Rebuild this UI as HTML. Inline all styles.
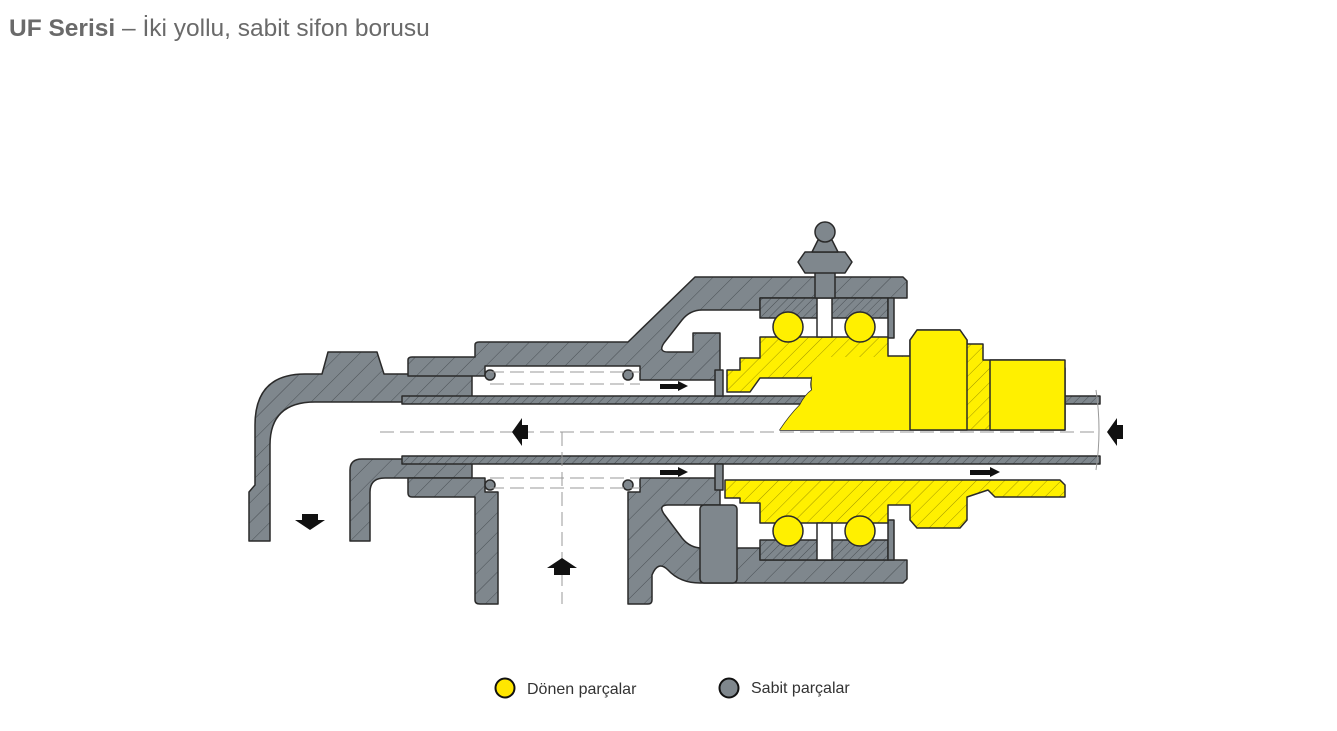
<!DOCTYPE html>
<html><head><meta charset="utf-8"><style>
html,body{margin:0;padding:0;background:#fff;width:1337px;height:731px;overflow:hidden}
.t{position:absolute;left:9px;top:15px;font-family:"Liberation Sans",sans-serif;font-size:24.5px;color:#6a6a6a;white-space:nowrap}
svg{position:absolute;left:0;top:0}
</style></head><body>
<div class="t"><b>UF Serisi</b> – İki yollu, sabit sifon borusu</div>
<svg width="1337" height="731" viewBox="0 0 1337 731">
<defs>
<pattern id="h" width="14" height="14" patternUnits="userSpaceOnUse" patternTransform="rotate(45)"><rect width="14" height="14" fill="#7f878d"/><line x1="0" y1="0" x2="0" y2="14" stroke="#4a5055" stroke-width="1"/></pattern>
<pattern id="hs" width="6" height="6" patternUnits="userSpaceOnUse" patternTransform="rotate(45)"><rect width="6" height="6" fill="#7f878d"/><line x1="0" y1="0" x2="0" y2="6" stroke="#4a5055" stroke-width="1"/></pattern>
<pattern id="y" width="10" height="10" patternUnits="userSpaceOnUse" patternTransform="rotate(45)"><rect width="10" height="10" fill="#fff000"/><line x1="0" y1="0" x2="0" y2="10" stroke="#8a8000" stroke-width="0.8"/></pattern>
</defs>
<g stroke="#2a2a2a" stroke-width="1.5" stroke-linejoin="round">
<path fill="url(#h)" d="M249,541 L249,492 L255,485 L255,425 Q255,374 305,374 L322,374 L328,352 L377,352 L384,374 L472,374 L472,402 L315,402 Q270,402 270,445 L270,541 Z"/>
<path fill="url(#h)" d="M350,541 L350,470 Q350,459 362,459 L472,459 L472,478 L385,478 Q370,478 370,492 L370,541 Z"/>
<path fill="url(#h)" d="M408,376 L408,360 Q408,357 412,357 L475,357 L475,345 Q475,342 479,342 L628,342 L695,277 L903,277 L907,281 L907,298 L760,298 L760,310 L702,310 Q690,310 682,320 L664,343 Q658,352 668,352 L693,352 L693,333 L720,333 L720,380 L640,380 L640,366 L485,366 L485,376 Z"/>
<path fill="url(#h)" d="M408,478 L485,478 L485,492 L498,492 L498,604 L480,604 Q475,604 475,600 L475,497 L412,497 Q408,497 408,493 Z"/>
<path fill="url(#h)" d="M628,492 L640,492 L640,478 L720,478 L720,505 L668,505 Q658,505 664,514 L682,538 Q690,548 702,548 L760,548 L760,560 L907,560 L907,579 L903,583 L700,583 Q680,583 668,570 Q658,560 652,575 L652,600 Q652,604 648,604 L628,604 Z"/>
<rect x="700" y="505" width="37" height="78" rx="4" fill="#7f878d"/>
<rect x="760" y="298" width="128" height="20" fill="url(#hs)"/>
<rect x="760" y="540" width="128" height="20" fill="url(#hs)"/>
<rect x="888" y="298" width="6" height="40" fill="#7f878d"/>
<rect x="888" y="520" width="6" height="40" fill="#7f878d"/>
<rect x="402" y="396" width="698" height="8" fill="url(#hs)"/>
<rect x="402" y="456" width="698" height="8" fill="url(#hs)"/>
<path fill="url(#y)" d="M727,392 L727,370 L740,370 L740,358 L760,358 L760,337 L888,337 L888,356 L910,356 L910,340 L917,330 L960,330 L967,340 L967,344 L983,344 L983,360 L1060,360 L1065,368 L1065,430 L780,430 Q790,415 800,405 Q805,395 812,390 Q810,385 812,378 L760,378 L750,392 Z"/>
<path fill="#fff000" d="M817,357 L910,357 L910,430 L780,430 Q790,415 800,405 Q805,395 812,390 Q810,375 817,365 Z" stroke="none"/>
<path fill="#fff000" d="M910,340 L917,330 L960,330 L967,340 L967,430 L910,430 Z"/>
<rect x="990" y="360" width="75" height="70" fill="#fff000"/>
<path fill="url(#y)" d="M725,480 L1060,480 L1065,485 L1065,497 L995,497 L988,490 L967,497 L967,520 L960,528 L917,528 L910,520 L910,505 L888,505 L888,523 L760,523 L760,503 L740,503 L740,498 L725,498 Z"/>
<circle cx="788" cy="327" r="15" fill="#fff000"/><circle cx="860" cy="327" r="15" fill="#fff000"/>
<circle cx="788" cy="531" r="15" fill="#fff000"/><circle cx="860" cy="531" r="15" fill="#fff000"/>
<rect x="817" y="298" width="15" height="39" fill="#fff"/>
<rect x="817" y="523" width="15" height="37" fill="#fff"/>
<rect x="815" y="270" width="20" height="28" fill="#7f878d"/>
<path fill="#7f878d" d="M798,262 L805,252 L845,252 L852,262 L845,273 L805,273 Z"/>
<path fill="#7f878d" d="M812,252 L818,240 L832,240 L838,252 Z"/>
<circle cx="825" cy="232" r="10" fill="#7f878d"/>
<circle cx="490" cy="375" r="5" fill="#7f878d"/><circle cx="628" cy="375" r="5" fill="#7f878d"/>
<circle cx="490" cy="485" r="5" fill="#7f878d"/><circle cx="628" cy="485" r="5" fill="#7f878d"/>
<rect x="715" y="370" width="8" height="26" fill="#7f878d"/><rect x="715" y="464" width="8" height="26" fill="#7f878d"/>
</g>
<g stroke="#999" stroke-width="1" fill="none" stroke-dasharray="14,6">
<line x1="380" y1="432" x2="1100" y2="432"/>
<line x1="490" y1="372" x2="640" y2="372"/><line x1="490" y1="384" x2="640" y2="384"/>
<line x1="490" y1="478" x2="640" y2="478"/><line x1="490" y1="488" x2="640" y2="488"/>
<line x1="562" y1="432" x2="562" y2="604"/>
</g>
<path d="M1096,390 Q1102,430 1096,470" stroke="#999" fill="none"/>
<g fill="#111">
<path d="M512,432 L522,418 L522,425 L528,425 L528,439 L522,439 L522,446 Z"/>
<path d="M1107,432 L1117,418 L1117,425 L1123,425 L1123,439 L1117,439 L1117,446 Z"/>
<path d="M310,530 L295,520 L302,520 L302,514 L318,514 L318,520 L325,520 Z"/>
<path d="M562,558 L547,568 L554,568 L554,575 L570,575 L570,568 L577,568 Z"/>
<path d="M688,386 L678,381 L678,384 L660,384 L660,389 L678,389 L678,391 Z"/>
<path d="M688,472 L678,467 L678,470 L660,470 L660,475 L678,475 L678,477 Z"/>
<path d="M1000,472 L990,467 L990,470 L970,470 L970,475 L990,475 L990,477 Z"/>
</g>
<circle cx="505" cy="688" r="9.5" fill="#ffe600" stroke="#111" stroke-width="2"/>
<text x="527" y="694" font-family="Liberation Sans,sans-serif" font-size="16" fill="#333">Dönen parçalar</text>
<circle cx="729" cy="688" r="9.5" fill="#7f878d" stroke="#111" stroke-width="2"/>
<text x="751" y="693" font-family="Liberation Sans,sans-serif" font-size="16" fill="#333">Sabit parçalar</text>
</svg>
</body></html>
